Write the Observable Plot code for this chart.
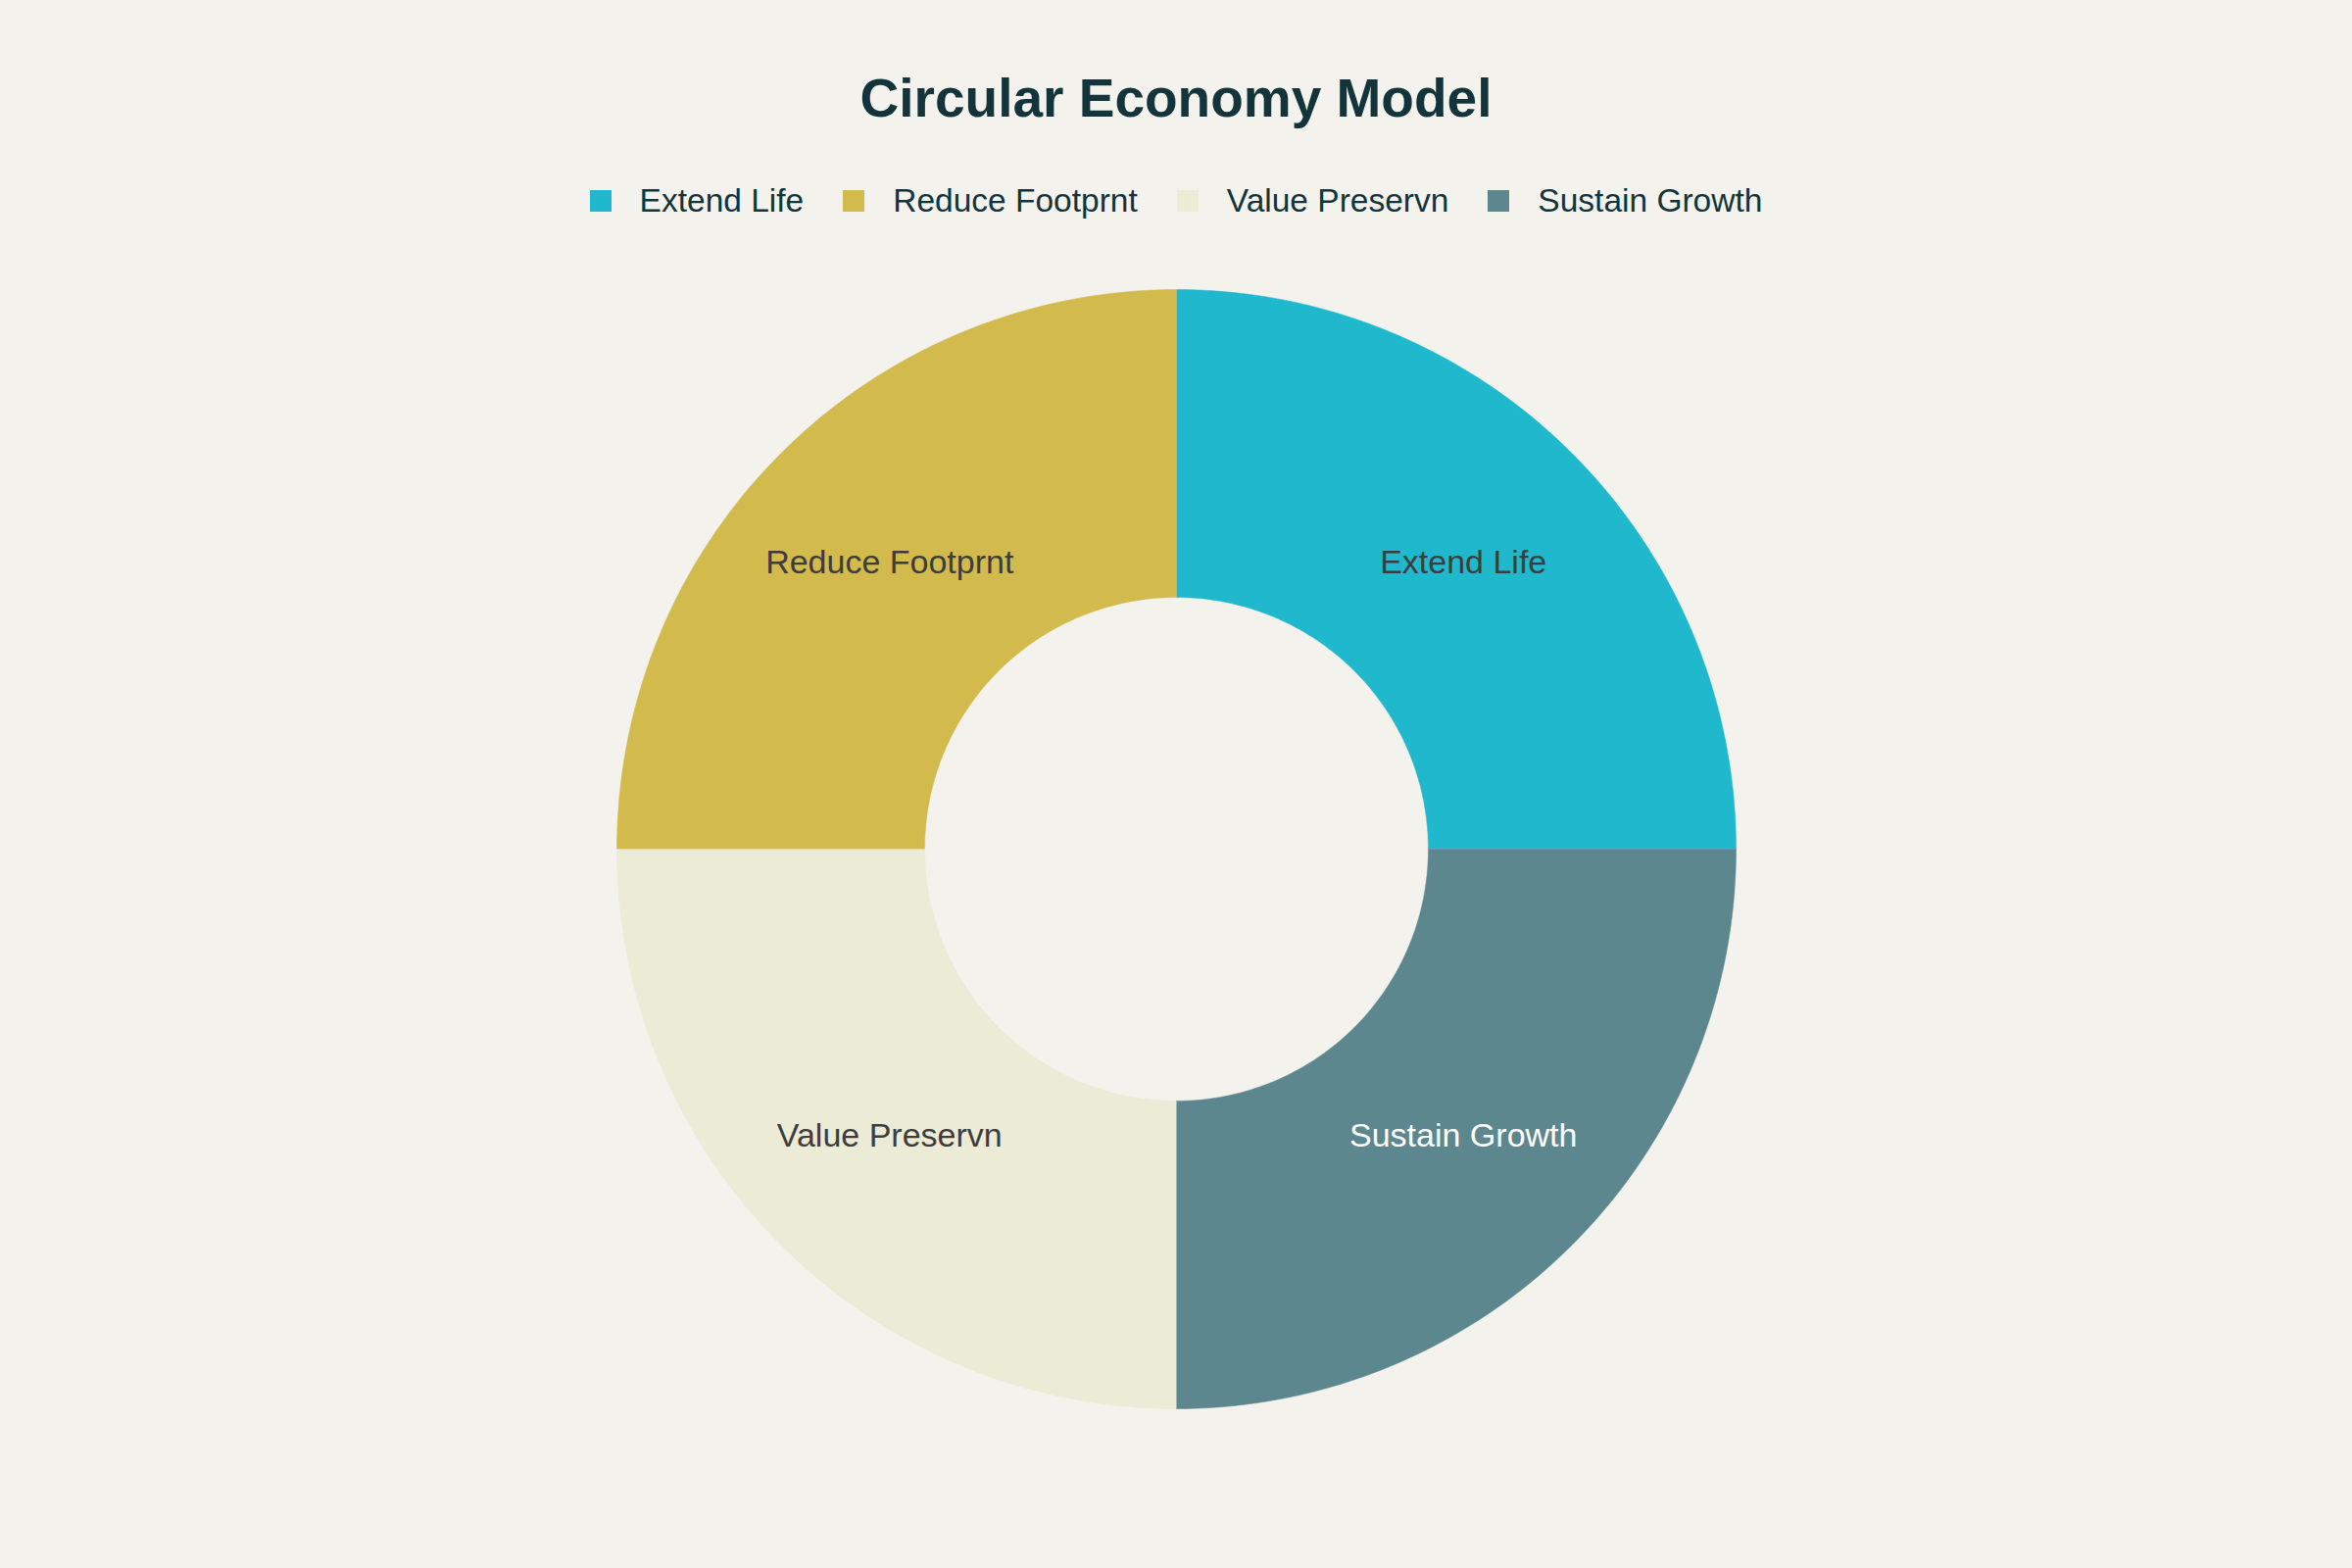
<!DOCTYPE html>
<html>
<head>
<meta charset="utf-8">
<script src="https://cdn.jsdelivr.net/npm/d3@7"></script>
<script src="https://cdn.jsdelivr.net/npm/@observablehq/plot@0.6"></script>
<style>
  html, body { margin: 0; padding: 0; background: #F3F2EC; }
  body { width: 2400px; height: 1600px; font-family: "Liberation Sans", Arial, sans-serif; position: relative; }
  #title { position: absolute; top: 68px; left: 0; width: 2400px; text-align: center; font-size: 55px; font-weight: bold; color: #13343B; line-height: 64px; }
  #legend { position: absolute; top: 185px; left: 0; width: 2400px; display: flex; justify-content: center; align-items: center; font-size: 33.5px; color: #13343B; line-height: 40px; }
  .item { display: flex; align-items: center; margin: 0 20px; }
  .sw { width: 22px; height: 22px; margin-right: 29px; }
  #chart { position: absolute; top: 240px; left: 0; }
</style>
</head>
<body>
<div id="title">Circular Economy Model</div>
<div id="legend"></div>
<div id="chart"></div>
<script>
const categories = ["Extend Life", "Reduce Footprnt", "Value Preservn", "Sustain Growth"];
const values = [25, 25, 25, 25];
const colors = ["#1FB8CD", "#D2BA4C", "#ECEBD5", "#5D878F"];
const labelColors = ["#3D3D3D", "#3D3D3D", "#3D3D3D", "#FFFFFF"];
const hole = 0.45;

// legend
const legend = document.getElementById("legend");
categories.forEach((c, i) => {
  const it = document.createElement("div");
  it.className = "item";
  it.innerHTML = `<div class="sw" style="background:${colors[i]}"></div><span>${c}</span>`;
  legend.appendChild(it);
});

// slice geometry from the data (counterclockwise from 3 o'clock)
const total = d3.sum(values);
let acc = 0;
const slices = categories.map((c, i) => {
  const a0 = (acc / total) * 2 * Math.PI;
  acc += values[i];
  const a1 = (acc / total) * 2 * Math.PI;
  return {category: c, a0, a1, i};
});

const N = 80;
const polyPoints = [];
slices.forEach(s => {
  for (let k = 0; k <= N; k++) {
    const a = s.a0 + (s.a1 - s.a0) * k / N;
    polyPoints.push({category: s.category, x: Math.cos(a), y: Math.sin(a)});
  }
  for (let k = N; k >= 0; k--) {
    const a = s.a0 + (s.a1 - s.a0) * k / N;
    polyPoints.push({category: s.category, x: hole * Math.cos(a), y: hole * Math.sin(a)});
  }
});

const labelData = slices.map(s => {
  const m = (s.a0 + s.a1) / 2, r = (1 + hole) / 2;
  return {category: s.category, x: r * Math.cos(m), y: r * Math.sin(m), i: s.i};
});

const H = 1360;
const R = 571;
const cy = 626;
const plot = Plot.plot({
  width: 2400,
  height: H,
  marginLeft: 1200 - R,
  marginRight: 1200 - R,
  marginTop: cy - R,
  marginBottom: H - cy - R,
  x: {domain: [-1, 1], axis: null},
  y: {domain: [-1, 1], axis: null},
  style: {background: "transparent", fontFamily: "'Liberation Sans', Arial, sans-serif"},
  marks: [
    ...slices.map(s => Plot.line(polyPoints.filter(p => p.category === s.category), {
      x: "x", y: "y", fill: colors[s.i], stroke: colors[s.i], strokeWidth: 0.5, curve: "linear"
    })),
    Plot.text(labelData, {
      x: "x", y: "y", text: "category", fontSize: 34,
      fill: d => labelColors[d.i]
    })
  ]
});
document.getElementById("chart").appendChild(plot);
</script>
</body>
</html>
